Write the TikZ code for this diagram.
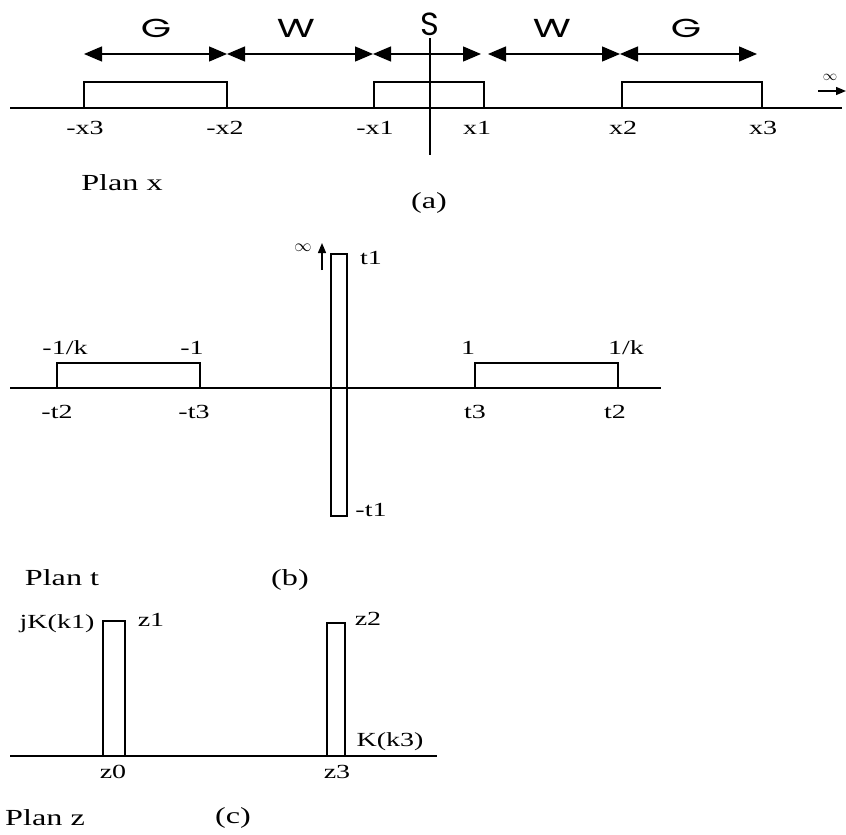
\documentclass[tikz,border=0pt]{standalone}
\usepackage{fontspec}
\setmainfont{Liberation Serif}
\newfontfamily\lblfont[FakeStretch=1.4]{Liberation Serif}
\newfontfamily\zonefont[FakeStretch=1.5]{Poppins}
\newfontfamily\sfont{Poppins}
\usetikzlibrary{arrows.meta,positioning}

\begin{document}
\begin{tikzpicture}[x=1pt, y=-1pt,
        axis/.style={line width=1.4pt},
        plate/.style={draw, line width=1.2pt},
        span/.style={{Triangle[length=18pt,width=15pt]}-{Triangle[length=18pt,width=15pt]}, line width=1.3pt},
        infarrow/.style={-{Triangle[length=10pt,width=8pt]}, line width=1.3pt},
        lbl/.style={font=\lblfont\fontsize{20}{22}\selectfont, inner sep=0pt},
        zone/.style={font=\zonefont\fontsize{26}{28}\selectfont, inner sep=0pt},
        plan/.style={font=\lblfont\fontsize{23}{25}\selectfont, inner sep=0pt}
    ]
    \useasboundingbox (0,0) rectangle (846,835);

    % (a) plan x
    \coordinate (xa0) at (10,108);  \coordinate (xa1) at (842,108);
    \draw[axis] (xa0) -- (xa1);
    \coordinate (ya0) at (430,38);  \coordinate (ya1) at (430,155);
    \draw[axis] (ya0) -- (ya1);
    \draw[plate] (84,108) rectangle (227,82);
    \draw[plate] (374,108) rectangle (484,82);
    \draw[plate] (622,108) rectangle (762,82);

    \coordinate (s0) at (84,54);   \coordinate (s1) at (227,54);
    \coordinate (s2) at (373,54);  \coordinate (s3) at (481,54);
    \coordinate (s4) at (488,54);  \coordinate (s5) at (620,54);
    \coordinate (s6) at (757,54);
    \draw[span] (s0) -- (s1);
    \draw[span] (s1) -- (s2);
    \draw[span] (s2) -- (s3);
    \draw[span] (s4) -- (s5);
    \draw[span] (s5) -- (s6);

    \node[zone] (gl) at (156,28) {G};
    \node[zone] (wl) at (296,28) {W};
    \node[inner sep=0pt, font=\sfont\fontsize{32}{34}\selectfont] (st) at (430,24) {S};
    \node[zone] (wr) at (552,28) {W};
    \node[zone] (gr) at (686,28) {G};

    \node[lbl] (mx3) at (85,128) {-x3};
    \node[lbl] (mx2) at (225,128) {-x2};
    \node[lbl] (mx1) at (375,128) {-x1};
    \node[lbl] (px1) at (477,128) {x1};
    \node[lbl] (px2) at (623,128) {x2};
    \node[lbl] (px3) at (763,128) {x3};

    \coordinate (ia0) at (818,91);  \coordinate (ia1) at (846,91);
    \draw[infarrow] (ia0) -- (ia1);
    \node[inner sep=0pt, font=\fontsize{15}{16}\selectfont] (infa) at (830,77) {$\infty$};

    \node[plan] (planx) at (122,183) {Plan x};
    \node[plan] (capa) at (429,203) {(a)};

    % (b) plan t
    \coordinate (xb0) at (10,388);  \coordinate (xb1) at (661,388);
    \draw[axis] (xb0) -- (xb1);
    \draw[plate] (57,388) rectangle (200,363);
    \draw[plate] (475,388) rectangle (618,363);
    \draw[plate] (331,254) rectangle (347,516);

    \coordinate (ib0) at (322,270);  \coordinate (ib1) at (322,243);
    \draw[infarrow] (ib0) -- (ib1);
    \node[inner sep=0pt, font=\fontsize{18}{19}\selectfont] (infb) at (303,248) {$\infty$};

    \node[lbl] (t1) at (371,258) {t1};
    \node[lbl] (mt1) at (371,510) {-t1};
    \node[lbl] (mk) at (65,348) {-1/k};
    \node[lbl] (mone) at (192,348) {-1};
    \node[lbl] (one) at (468,348) {1};
    \node[lbl] (pk) at (626,348) {1/k};
    \node[lbl] (mt2) at (57,412) {-t2};
    \node[lbl] (mt3) at (194,412) {-t3};
    \node[lbl] (t3) at (475,412) {t3};
    \node[lbl] (t2) at (615,412) {t2};

    \node[plan] (plant) at (62,578) {Plan t};
    \node[plan] (capb) at (290,580) {(b)};

    % (c) plan z
    \coordinate (xc0) at (10,756);  \coordinate (xc1) at (437,756);
    \draw[axis] (xc0) -- (xc1);
    \draw[plate] (103,756) rectangle (125,621);
    \draw[plate] (327,756) rectangle (345,623);

    \node[lbl] (jk) at (57,624) {jK(k1)};
    \node[lbl] (z1) at (151,620) {z1};
    \node[lbl] (z2) at (368,619) {z2};
    \node[lbl] (kk) at (390,742) {K(k3)};
    \node[lbl] (z0) at (113,772) {z0};
    \node[lbl] (z3) at (337,772) {z3};

    \node[plan] (planz) at (45,818) {Plan z};
    \node[plan] (capc) at (233,818) {(c)};
\end{tikzpicture}
\end{document}
